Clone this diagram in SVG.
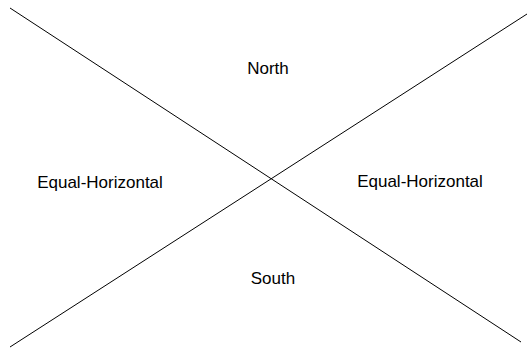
<svg xmlns="http://www.w3.org/2000/svg" width="530" height="350" viewBox="0 0 530 350">
<style>
.ln{stroke:#000;stroke-width:1;fill:none}
.lb{font-family:"Liberation Sans",Arial,sans-serif;font-size:17px;fill:#000;text-anchor:middle}
</style>
<rect width="530" height="350" fill="#fff"/>
<g id="connectors">
<line class="ln" x1="10" y1="8" x2="521" y2="342"/>
<line class="ln" x1="10" y1="347" x2="527" y2="14"/>
</g>
<g id="north"><text class="lb" x="268" y="74">North</text></g>
<g id="south"><text class="lb" x="273" y="284">South</text></g>
<g id="west"><text class="lb" x="100" y="188">Equal-Horizontal</text></g>
<g id="east"><text class="lb" x="420" y="187">Equal-Horizontal</text></g>
</svg>
